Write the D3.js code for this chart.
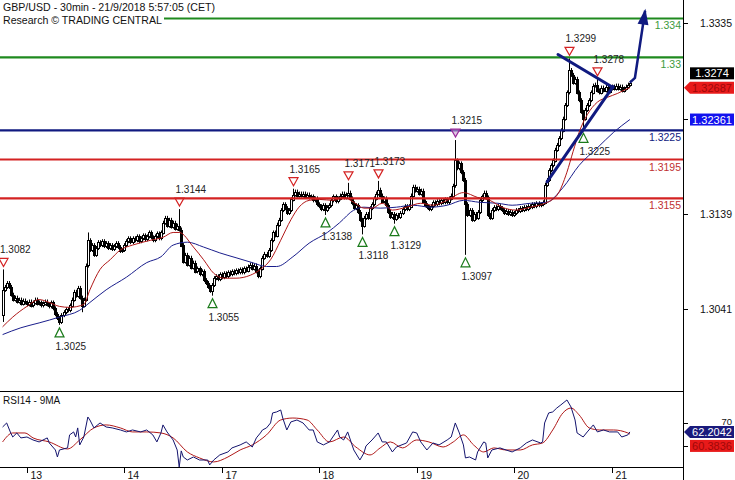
<!DOCTYPE html>
<html><head><meta charset="utf-8">
<script src="https://cdn.jsdelivr.net/npm/d3@7"></script>
<style>html,body{margin:0;padding:0;background:#fff;overflow:hidden}svg{display:block;font-family:"Liberation Sans",Arial,sans-serif}</style>
</head><body><svg id="c" width="735" height="480"></svg>
<script>
// ---------------- DATA ----------------
const title = "GBP/USD - 30min - 21/9/2018 5:57:05 (CET)";
const subtitle = "Research \u00A9 TRADING CENTRAL";
const rsiTitle = "RSI14 - 9MA";
const firstOpen = 1.3035;
const closes = [
1.3061,1.3064,1.3068,1.3064,1.3056,1.3051,1.3053,1.3049,1.3051,1.3047,
1.3050,1.3048,1.3046,1.3049,1.3045,1.3048,1.3051,1.3047,1.3048,1.3045,
1.3047,1.3049,1.3046,1.3044,1.3048,1.3042,1.3036,1.3032,1.3028,1.3035,
1.3038,1.3041,1.3040,1.3045,1.3051,1.3059,1.3055,1.3063,1.3053,1.3045,
1.3051,1.3086,1.3112,1.3102,1.3107,1.3097,1.3104,1.3110,1.3107,1.3111,
1.3106,1.3109,1.3104,1.3107,1.3103,1.3106,1.3109,1.3105,1.3101,1.3102,
1.3107,1.3111,1.3114,1.3110,1.3114,1.3112,1.3116,1.3111,1.3114,1.3117,
1.3113,1.3116,1.3120,1.3115,1.3112,1.3116,1.3119,1.3114,1.3120,1.3130,
1.3135,1.3127,1.3133,1.3126,1.3130,1.3124,1.3127,1.3123,1.3107,1.3090,
1.3097,1.3087,1.3094,1.3084,1.3089,1.3080,1.3083,1.3077,1.3080,1.3071,
1.3068,1.3064,1.3060,1.3066,1.3073,1.3075,1.3072,1.3077,1.3074,1.3078,
1.3075,1.3079,1.3077,1.3080,1.3078,1.3081,1.3079,1.3082,1.3079,1.3083,
1.3081,1.3085,1.3087,1.3083,1.3086,1.3080,1.3075,1.3083,1.3094,1.3098,
1.3096,1.3102,1.3112,1.3120,1.3117,1.3128,1.3133,1.3143,1.3149,1.3145,
1.3140,1.3143,1.3154,1.3159,1.3162,1.3158,1.3160,1.3158,1.3160,1.3157,
1.3159,1.3156,1.3157,1.3153,1.3155,1.3149,1.3147,1.3144,1.3148,1.3143,
1.3146,1.3148,1.3153,1.3157,1.3152,1.3155,1.3158,1.3160,1.3156,1.3159,
1.3161,1.3155,1.3150,1.3145,1.3148,1.3141,1.3133,1.3127,1.3135,1.3139,
1.3135,1.3145,1.3149,1.3155,1.3160,1.3164,1.3158,1.3152,1.3155,1.3148,
1.3141,1.3136,1.3139,1.3134,1.3138,1.3136,1.3140,1.3144,1.3147,1.3144,
1.3147,1.3158,1.3167,1.3163,1.3165,1.3160,1.3163,1.3152,1.3148,1.3146,
1.3144,1.3147,1.3151,1.3149,1.3152,1.3150,1.3153,1.3151,1.3154,1.3151,
1.3155,1.3158,1.3168,1.3194,1.3186,1.3191,1.3182,1.3174,1.3149,1.3138,
1.3143,1.3133,1.3139,1.3135,1.3141,1.3153,1.3157,1.3161,1.3156,1.3138,
1.3135,1.3143,1.3146,1.3144,1.3147,1.3145,1.3143,1.3140,1.3142,1.3139,
1.3141,1.3138,1.3140,1.3143,1.3142,1.3145,1.3143,1.3146,1.3144,1.3147,
1.3146,1.3149,1.3147,1.3150,1.3148,1.3149,1.3151,1.3169,1.3174,1.3184,
1.3189,1.3194,1.3205,1.3210,1.3217,1.3225,1.3237,1.3251,1.3264,1.3287,
1.3282,1.3274,1.3278,1.3264,1.3256,1.3244,1.3237,1.3246,1.3251,1.3256,
1.3264,1.3271,1.3272,1.3266,1.3264,1.3269,1.3266,1.3270,1.3265,1.3268,
1.3270,1.3268,1.3271,1.3268,1.3270,1.3266,1.3268,1.3270,1.3272,1.3274];
const spikeHighs = [[0,1.3082],[42,1.3120],[87,1.3144],[143,1.3165],[170,1.3171],[185,1.3173],[223,1.3215],[279,1.3299],[293,1.3278]];
const spikeLows = [[0,1.3028],[28,1.3025],[39,1.3038],[103,1.3055],[159,1.3138],[177,1.3118],[193,1.3129],[228,1.3097],[286,1.3228]];
const highMarks = [[0,1.3082],[87,1.3144],[143,1.3165],[170,1.3171],[185,1.3173],[223,1.3215],[279,1.3299],[293,1.3278]];
const lowMarks = [[28,1.3025],[103,1.3055],[159,1.3138],[177,1.3118],[193,1.3129],[228,1.3097],[286,1.3225]];
const maRed = [[0,1.3023],[5,1.3033],[12,1.3044],[18,1.3051],[23,1.3048],[28,1.3044],[33,1.3043],[40,1.3046],[43,1.3061],[48,1.3082],[53,1.3092],[58,1.3102],[64,1.3107],[73,1.3112],[79,1.3115],[84,1.3120],[87,1.3120],[94,1.3105],[99,1.3092],[104,1.3078],[109,1.3073],[115,1.3073],[122,1.3076],[127,1.3082],[132,1.3092],[137,1.3112],[142,1.3133],[146,1.3146],[151,1.3153],[156,1.3154],[163,1.3153],[168,1.3156],[173,1.3151],[178,1.3145],[182,1.3145],[187,1.3150],[192,1.3143],[199,1.3146],[206,1.3150],[212,1.3148],[219,1.3153],[227,1.3161],[234,1.3156],[240,1.3153],[246,1.3146],[253,1.3143],[260,1.3146],[266,1.3149],[273,1.3158],[278,1.3182],[281,1.3203],[284,1.3223],[288,1.3241],[293,1.3254],[298,1.3259],[303,1.3263],[308,1.3268],[309,1.32687]];
const maBlue = [[0,1.3015],[9,1.3022],[18,1.3027],[28,1.3033],[38,1.3040],[43,1.3048],[51,1.3061],[61,1.3074],[71,1.3089],[78,1.3095],[84,1.3107],[91,1.3110],[99,1.3105],[107,1.3099],[115,1.3094],[123,1.3089],[130,1.3085],[135,1.3085],[143,1.3095],[151,1.3109],[160,1.3120],[166,1.3130],[173,1.3143],[178,1.3146],[186,1.3145],[194,1.3146],[202,1.3148],[211,1.3146],[219,1.3148],[227,1.3153],[235,1.3151],[244,1.3150],[251,1.3148],[260,1.3150],[268,1.3151],[276,1.3166],[284,1.3189],[293,1.3207],[301,1.3223],[309,1.32361]];
const levelVals = [1.3340,1.3300,1.3225,1.3195,1.3155];
const levelLabels = ["1.334","1.33","1.3225","1.3195","1.3155"];
const trendLines = [[[273.6,1.3303],[300.7,1.3269]],[[268.2,1.3172],[300.7,1.3270]]];
const forecastArrow = [[309,1.3274],[311.5,1.3279],[316.5,1.3348]];
const rsiLine = [[0,66.5],[2,70],[4,61.3],[5,57.8],[7,61.3],[9,57],[12,57.8],[15,55.2],[18,53.5],[22,57],[23,52.6],[26,46.5],[27,40.4],[28,46.5],[32,48.3],[33,59.6],[35,62.2],[36,57.8],[37,65.7],[38,50.9],[40,57.8],[42,75.2],[43,72.6],[45,65.7],[48,70],[51,66.5],[54,65.7],[58,63.9],[61,62.2],[64,63.9],[68,62.2],[71,63.9],[74,59.6],[76,53.5],[78,61.3],[79,68.3],[81,62.2],[84,55.2],[86,46.5],[87,31.7],[88,45.7],[89,40.4],[91,37.8],[94,40.4],[97,37.8],[101,37.8],[102,33.5],[104,37.8],[107,42.2],[111,44.8],[113,48.3],[117,50.9],[120,53.5],[123,49.1],[125,57],[127,61.3],[128,63.9],[130,65.7],[132,70],[133,78.7],[135,79.6],[137,81.3],[138,74.3],[140,63.9],[142,70.9],[145,72.6],[148,70],[151,63.9],[153,63.9],[155,53.5],[158,50.9],[161,53.5],[165,63.9],[166,57.8],[168,55.2],[170,62.2],[173,46.5],[176,37.8],[178,43.9],[179,50],[182,55.2],[185,61.3],[187,53.5],[189,53.5],[192,44.8],[194,49.1],[199,52.6],[202,62.2],[204,61.3],[206,53.5],[209,46.5],[212,52.6],[215,50.9],[219,55.2],[221,57.8],[223,70],[225,61.3],[227,50.9],[228,39.6],[230,40.4],[233,37.8],[234,44.8],[237,53.5],[238,52.6],[239,39.6],[241,46.5],[245,48.3],[248,46.5],[251,44.8],[255,48.3],[258,52.6],[261,55.2],[265,52.6],[266,53.5],[267,70],[269,78.7],[271,79.6],[273,83],[275,85.7],[278,90],[280,83.9],[282,72.6],[283,61.3],[286,57.8],[288,62.2],[291,68.3],[293,62.2],[296,63.9],[299,62.2],[303,62.2],[305,57.8],[308,59.6],[309,62.2042]];
const rsiMa = [[0,53.5],[5,61.3],[11,61.3],[15,57],[23,53.5],[32,47.4],[38,55.2],[45,65.7],[51,68.3],[58,65.7],[64,62.2],[71,62.2],[78,61.3],[84,57],[91,44.8],[97,39.6],[104,36.1],[111,40.4],[117,46.5],[123,50.9],[130,59.6],[137,72.6],[143,74.3],[150,72.6],[155,63.9],[161,53.5],[168,57.8],[174,49.1],[181,42.2],[186,48.3],[191,53.5],[197,48.3],[204,55.2],[210,53.5],[217,49.1],[222,53.5],[227,59.6],[232,50.9],[237,44.8],[242,48.3],[248,46.5],[255,46.5],[261,50.9],[266,52.6],[271,63.9],[276,78.7],[280,83],[284,77],[289,65.7],[294,63.9],[301,63.9],[308,61.3],[309,60.3836]];
const priceTicks = [1.3335,1.3237,1.3139,1.3041];
const rsiTicks = [70,50];
const dayBars = [12,60,108,156,204,252,300];
const dayLabels = ["13","14","17","18","19","20","21"];
const lastPrice = 1.3274, lastPriceText = "1.3274";
const redMaText = "1.32687", blueMaText = "1.32361";
const rsiText = "62.2042", rsiMaText = "60.3836";

// ---------------- LAYOUT ----------------
const svg = d3.select("#c");
const AX = 683, MAIN_B = 391, RSI_B = 467;
const x = d3.scaleLinear().domain([0, 310]).range([2.6, 631.9]);
const yP = d3.scaleLinear().domain([1.2957, 1.3359]).range([MAIN_B, 0]);
const yR = d3.scaleLinear().domain([31.7, 97.8]).range([RSI_B, MAIN_B]);
const C = {green:"#1f8a1f", greenT:"#3c9a3c", navy:"#101a80", red:"#d42222", redT:"#c03030", ma:"#b01818", maBlue:"#1a1e8c"};

const defs = svg.append("defs");
defs.append("clipPath").attr("id","cm").append("rect").attr("x",0).attr("y",0).attr("width",AX).attr("height",MAIN_B);
defs.append("clipPath").attr("id","cr").append("rect").attr("x",0).attr("y",MAIN_B).attr("width",AX).attr("height",RSI_B-MAIN_B);
defs.append("marker").attr("id","ah").attr("markerUnits","userSpaceOnUse").attr("markerWidth",20).attr("markerHeight",20)
  .attr("viewBox","-16 -8 20 16").attr("refX",0).attr("refY",0).attr("orient","auto")
  .append("path").attr("d","M2,0 L-14,-5.5 L-14,5.5 Z").attr("fill",C.navy);

const main = svg.append("g").attr("clip-path","url(#cm)");

// candles
const hiMap = new Map(spikeHighs), loMap = new Map(spikeLows);
const bars = closes.map((c,i)=>{
  const o = i===0 ? firstOpen : closes[i-1];
  return {i,o,c,h:hiMap.has(i)?hiMap.get(i):null,l:loMap.has(i)?loMap.get(i):null};
});
const cg = main.append("g");
bars.forEach(b=>{
  const cx = Math.round(x(b.i));
  const top = yP(Math.max(b.o,b.c)), bot = yP(Math.min(b.o,b.c));
  const yh = b.h!==null ? yP(b.h) : top-2;
  const yl = b.l!==null ? yP(b.l) : bot+2;
  cg.append("line").attr("x1",cx+0.5).attr("x2",cx+0.5).attr("y1",yh).attr("y2",yl).attr("stroke","#000").attr("stroke-width",1);
  if (b.c >= b.o) {
    cg.append("rect").attr("x",cx-0.5).attr("y",Math.round(top)+0.5).attr("width",2).attr("height",Math.max(1,Math.round(bot-top)))
      .attr("fill","#fff").attr("stroke","#000").attr("stroke-width",1);
  } else {
    cg.append("rect").attr("x",cx-1).attr("y",Math.round(top)).attr("width",3).attr("height",Math.max(1.5,Math.round(bot-top)+1)).attr("fill","#000");
  }
});

// level lines
const levelColor = i => i<2 ? C.green : (i===2 ? C.navy : C.red);
const levelTextColor = i => i<2 ? C.greenT : (i===2 ? C.navy : C.redT);
levelVals.forEach((v,i)=>{
  main.append("line").attr("x1",0).attr("x2",AX).attr("y1",yP(v)).attr("y2",yP(v)).attr("stroke",levelColor(i)).attr("stroke-width",2.2);
});

// moving averages
const lineP = d3.line().x(d=>x(d[0])).y(d=>yP(d[1])).curve(d3.curveMonotoneX);
main.append("path").attr("d",lineP(maBlue)).attr("fill","none").attr("stroke",C.maBlue).attr("stroke-width",1);
main.append("path").attr("d",lineP(maRed)).attr("fill","none").attr("stroke",C.ma).attr("stroke-width",1);

// trend lines
const lineT = d3.line().x(d=>x(d[0])).y(d=>yP(d[1]));
trendLines.forEach(t=>main.append("path").attr("d",lineT(t)).attr("stroke",C.navy).attr("stroke-width",3).attr("fill","none").attr("stroke-linecap","round"));
svg.append("path").attr("d",lineT(forecastArrow)).attr("stroke",C.navy).attr("stroke-width",2.5).attr("fill","none").attr("marker-end","url(#ah)");

// level labels
levelVals.forEach((v,i)=>{
  svg.append("text").attr("x",AX-2).attr("y",yP(v)+11).attr("text-anchor","end").attr("font-size",10.5).attr("fill",levelTextColor(i)).text(levelLabels[i]);
});

// markers
const fmt4 = d3.format(".4f");
highMarks.forEach(([i,v])=>{
  const cx = Math.round(x(i))+0.5, yv = yP(v);
  const nearBlue = Math.abs(yv - yP(levelVals[2])) < 14;
  const col = nearBlue ? "#9a2a9a" : C.red;
  svg.append("path").attr("d",`M${cx-4.5},${yv-11}L${cx+4.5},${yv-11}L${cx},${yv-3}Z`).attr("fill", nearBlue?"#c9a0d0":"#fff").attr("fill-opacity",nearBlue?0.6:0).attr("stroke",col).attr("stroke-width",1.2);
  svg.append("text").attr("x",Math.max(0,cx-4)).attr("y",yv-16).attr("font-size",10).attr("fill","#222").text(fmt4(v));
});
lowMarks.forEach(([i,v])=>{
  const cx = Math.round(x(i))+0.5, yv = yP(v);
  svg.append("path").attr("d",`M${cx},${yv+3}L${cx-4.5},${yv+12}L${cx+4.5},${yv+12}Z`).attr("fill","none").attr("stroke","#1a7a1a").attr("stroke-width",1.2);
  svg.append("text").attr("x",cx-4).attr("y",yv+25).attr("font-size",10).attr("fill","#222").text(fmt4(v));
});

// title with white background
[[title,11],[subtitle,24]].forEach(([t,yb])=>{
  const tx = svg.append("text").attr("x",3).attr("y",yb).attr("font-size",10.6).attr("fill","#111").text(t);
  const bb = tx.node().getBBox();
  svg.insert("rect","text").attr("x",0).attr("y",bb.y).attr("width",bb.x+bb.width+2).attr("height",bb.height).attr("fill","#fff");
});
svg.selectAll("text").raise();

// RSI panel
const rsiG = svg.append("g").attr("clip-path","url(#cr)");
rsiG.append("path").attr("d",d3.line().x(d=>x(d[0])).y(d=>yR(d[1])).curve(d3.curveMonotoneX)(rsiMa)).attr("fill","none").attr("stroke",C.ma).attr("stroke-width",1);
rsiG.append("path").attr("d",d3.line().x(d=>x(d[0])).y(d=>yR(d[1]))(rsiLine)).attr("fill","none").attr("stroke","#14146e").attr("stroke-width",1);
svg.append("text").attr("x",3).attr("y",404).attr("font-size",10).attr("fill","#111").text(rsiTitle);

// frame lines
svg.append("line").attr("x1",0).attr("x2",AX).attr("y1",MAIN_B+0.5).attr("y2",MAIN_B+0.5).attr("stroke","#000");
svg.append("line").attr("x1",0).attr("x2",AX).attr("y1",RSI_B+0.5).attr("y2",RSI_B+0.5).attr("stroke","#000");
svg.append("line").attr("x1",AX+0.5).attr("x2",AX+0.5).attr("y1",0).attr("y2",480).attr("stroke","#000");

// x axis (days)
dayBars.forEach((b,k)=>{
  const tx = Math.round(x(b))+0.5;
  svg.append("line").attr("x1",tx).attr("x2",tx).attr("y1",RSI_B).attr("y2",RSI_B+6).attr("stroke","#000");
  svg.append("text").attr("x",tx+3).attr("y",479).attr("font-size",10.5).attr("fill","#111").text(dayLabels[k]);
});

// value boxes (positions computed first so fully covered axis labels can be skipped)
const yRed = yP(maRed[maRed.length-1][1]);
const yBlue = yP(maBlue[maBlue.length-1][1]);
const yLast = Math.min(yP(lastPrice), yRed-14.5);
const yRs = yR(rsiLine[rsiLine.length-1][1]);
const yRsMa = Math.max(yR(rsiMa[rsiMa.length-1][1]), yRs+14);
const boxYs = [yLast, yRed, yBlue, yRs, yRsMa];
const covered = ty => boxYs.some(b => Math.abs(b-ty) < 6);

priceTicks.forEach(v=>{
  const ty = Math.round(yP(v))+0.5;
  svg.append("line").attr("x1",AX).attr("x2",AX+5).attr("y1",ty).attr("y2",ty).attr("stroke","#000");
  if (!covered(ty)) svg.append("text").attr("x",732).attr("y",ty+3.8).attr("text-anchor","end").attr("font-size",10.5).attr("fill","#111").text(fmt4(v));
});
rsiTicks.forEach(v=>{
  const ty = Math.round(yR(v))+0.5;
  svg.append("line").attr("x1",AX).attr("x2",AX+5).attr("y1",ty).attr("y2",ty).attr("stroke","#000");
  if (!covered(ty)) svg.append("text").attr("x",732).attr("y",ty+1).attr("text-anchor","end").attr("font-size",9.5).attr("fill","#111").text(v);
});

function box(cy, bg, fg, txt, arrow){
  const h = 12;
  if (arrow) svg.append("path").attr("d",`M${AX+1},${cy}L${AX+7},${cy-h/2}L734,${cy-h/2}L734,${cy+h/2}L${AX+7},${cy+h/2}Z`).attr("fill",bg);
  else svg.append("rect").attr("x",690).attr("y",cy-h/2).attr("width",44).attr("height",h).attr("fill",bg);
  svg.append("text").attr("x",712).attr("y",cy+4).attr("text-anchor","middle").attr("font-size",11).attr("fill",fg).text(txt);
}
box(yLast, "#000", "#fff", lastPriceText, false);
box(yRed, "#e81a1a", "#a00808", redMaText, true);
box(yBlue, "#1212ee", "#fff", blueMaText, false);
box(yRs, "#1a1a7c", "#fff", rsiText, true);
box(yRsMa, "#e81a1a", "#a00808", rsiMaText, false);
</script></body></html>
